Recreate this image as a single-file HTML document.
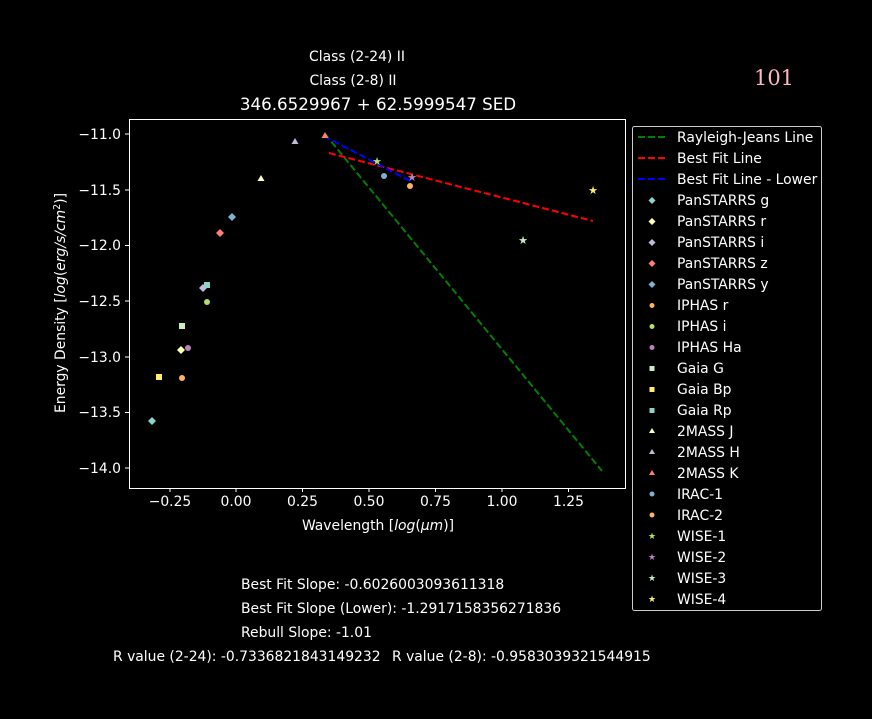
<!DOCTYPE html>
<html><head><style>
body{margin:0;background:#000;width:872px;height:714px;overflow:hidden}
svg text{font-family:"DejaVu Sans","Liberation Sans",sans-serif;fill:#fff}
</style></head><body>
<svg width="872" height="714" xmlns="http://www.w3.org/2000/svg">
<rect width="872" height="714" fill="#000"/>
<text x="357" y="61" font-size="13.9" text-anchor="middle">Class (2-24) II</text>
<text x="353" y="85" font-size="13.9" text-anchor="middle">Class (2-8) II</text>
<text x="378" y="110" font-size="16.7" text-anchor="middle">346.6529967 + 62.5999547 SED</text>
<text x="774" y="85" font-size="21" text-anchor="middle" style="fill:#ffb6c1;font-family:'DejaVu Serif','Liberation Serif',serif">101</text>
<rect x="129.5" y="119.5" width="496" height="369" fill="none" stroke="#fff" stroke-width="1"/>
<g stroke="#fff">
<line x1="170" y1="488" x2="170" y2="492"/><line x1="236" y1="488" x2="236" y2="492"/><line x1="302.5" y1="488" x2="302.5" y2="492"/><line x1="369" y1="488" x2="369" y2="492"/><line x1="435.5" y1="488" x2="435.5" y2="492"/><line x1="502" y1="488" x2="502" y2="492"/><line x1="568.5" y1="488" x2="568.5" y2="492"/>
<line x1="125" y1="134" x2="129" y2="134"/><line x1="125" y1="190" x2="129" y2="190"/><line x1="125" y1="245.5" x2="129" y2="245.5"/><line x1="125" y1="301" x2="129" y2="301"/><line x1="125" y1="357" x2="129" y2="357"/><line x1="125" y1="412.5" x2="129" y2="412.5"/><line x1="125" y1="468" x2="129" y2="468"/>
</g>
<g font-size="13.9" text-anchor="middle">
<text x="170" y="506">−0.25</text><text x="236" y="506">0.00</text><text x="302.5" y="506">0.25</text><text x="369" y="506">0.50</text><text x="435.5" y="506">0.75</text><text x="502" y="506">1.00</text><text x="568.5" y="506">1.25</text>
<text x="378" y="530">Wavelength [<tspan font-style="italic">log</tspan>(<tspan font-style="italic">μm</tspan>)]</text>
</g>
<g font-size="13.9" text-anchor="end">
<text x="121" y="139">−11.0</text><text x="121" y="195">−11.5</text><text x="121" y="250">−12.0</text><text x="121" y="306">−12.5</text><text x="121" y="362">−13.0</text><text x="121" y="417">−13.5</text><text x="121" y="473">−14.0</text>
</g>
<text transform="translate(65,303) rotate(-90)" font-size="13.9" text-anchor="middle">Energy Density [<tspan font-style="italic">log</tspan>(<tspan font-style="italic">erg/s/cm</tspan><tspan font-size="9.5" dy="-5">2</tspan><tspan dy="5">)]</tspan></text>
<line x1="325" y1="134" x2="602" y2="471" stroke="#008000" stroke-width="2" stroke-dasharray="7,3"/>
<line x1="329" y1="153" x2="593" y2="221" stroke="#f00" stroke-width="2" stroke-dasharray="7,3"/>
<line x1="324" y1="136" x2="412" y2="182" stroke="#00f" stroke-width="2" stroke-dasharray="7,3"/>
<g>
<path d="M152 417l4 4-4 4-4-4z" fill="#8dd3c7"/>
<path d="M181 346l4 4-4 4-4-4z" fill="#ffffb3"/>
<path d="M203 284l4 4-4 4-4-4z" fill="#bebada"/>
<path d="M220 229l4 4-4 4-4-4z" fill="#fb8072"/>
<path d="M232 213l4 4-4 4-4-4z" fill="#80b1d3"/>
<circle cx="182" cy="378" r="3" fill="#fdb462"/>
<circle cx="207" cy="302" r="3" fill="#b3de69"/>
<circle cx="188" cy="348" r="3" fill="#bc80bd"/>
<rect x="179" y="323" width="6" height="6" fill="#ccebc5"/>
<rect x="156" y="374" width="6" height="6" fill="#ffed6f"/>
<rect x="204" y="282" width="6" height="6" fill="#8dd3c7"/>
<path d="M261 175l3.5 6h-7z" fill="#ffffb3"/>
<path d="M295 138l3.5 6h-7z" fill="#bebada"/>
<path d="M325 132l3.5 6h-7z" fill="#fb8072"/>
<circle cx="384" cy="176" r="3" fill="#80b1d3"/>
<circle cx="410" cy="186" r="3" fill="#fdb462"/>
<text x="377" y="165" font-size="11" text-anchor="middle" style="fill:#b3de69">★</text>
<text x="412" y="181" font-size="11" text-anchor="middle" style="fill:#bc80bd">★</text>
<text x="523" y="244" font-size="11" text-anchor="middle" style="fill:#ccebc5">★</text>
<text x="593" y="194" font-size="11" text-anchor="middle" style="fill:#ffed6f">★</text>
</g>
<rect x="632.5" y="126.5" width="189" height="484" rx="2" fill="#000" stroke="#ccc" stroke-width="1"/>
<g font-size="13.9">
<line x1="638" y1="137" x2="666" y2="137" stroke="#008000" stroke-width="2" stroke-dasharray="7,3"/><text x="677" y="142">Rayleigh-Jeans Line</text>
<line x1="638" y1="158" x2="666" y2="158" stroke="#f00" stroke-width="2" stroke-dasharray="7,3"/><text x="677" y="163">Best Fit Line</text>
<line x1="638" y1="179" x2="666" y2="179" stroke="#00f" stroke-width="2" stroke-dasharray="7,3"/><text x="677" y="184">Best Fit Line - Lower</text>
<path d="M652 197l3.5 3.5-3.5 3.5-3.5-3.5z" fill="#8dd3c7"/><text x="677" y="205">PanSTARRS g</text>
<path d="M652 218l3.5 3.5-3.5 3.5-3.5-3.5z" fill="#ffffb3"/><text x="677" y="226">PanSTARRS r</text>
<path d="M652 239l3.5 3.5-3.5 3.5-3.5-3.5z" fill="#bebada"/><text x="677" y="247">PanSTARRS i</text>
<path d="M652 260l3.5 3.5-3.5 3.5-3.5-3.5z" fill="#fb8072"/><text x="677" y="268">PanSTARRS z</text>
<path d="M652 281l3.5 3.5-3.5 3.5-3.5-3.5z" fill="#80b1d3"/><text x="677" y="289">PanSTARRS y</text>
<circle cx="652" cy="305.5" r="2.5" fill="#fdb462"/><text x="677" y="310">IPHAS r</text>
<circle cx="652" cy="326.5" r="2.5" fill="#b3de69"/><text x="677" y="331">IPHAS i</text>
<circle cx="652" cy="347.5" r="2.5" fill="#bc80bd"/><text x="677" y="352">IPHAS Ha</text>
<rect x="649.5" y="366" width="5" height="5" fill="#ccebc5"/><text x="677" y="373">Gaia G</text>
<rect x="649.5" y="387" width="5" height="5" fill="#ffed6f"/><text x="677" y="394">Gaia Bp</text>
<rect x="649.5" y="408" width="5" height="5" fill="#8dd3c7"/><text x="677" y="415">Gaia Rp</text>
<path d="M652 428l3 5h-6z" fill="#ffffb3"/><text x="677" y="436">2MASS J</text>
<path d="M652 449l3 5h-6z" fill="#bebada"/><text x="677" y="457">2MASS H</text>
<path d="M652 470l3 5h-6z" fill="#fb8072"/><text x="677" y="478">2MASS K</text>
<circle cx="652" cy="494" r="2.5" fill="#80b1d3"/><text x="677" y="499">IRAC-1</text>
<circle cx="652" cy="515" r="2.5" fill="#fdb462"/><text x="677" y="520">IRAC-2</text>
<text x="652" y="539" font-size="9" text-anchor="middle" style="fill:#b3de69">★</text><text x="677" y="541">WISE-1</text>
<text x="652" y="560" font-size="9" text-anchor="middle" style="fill:#bc80bd">★</text><text x="677" y="562">WISE-2</text>
<text x="652" y="581" font-size="9" text-anchor="middle" style="fill:#ccebc5">★</text><text x="677" y="583">WISE-3</text>
<text x="652" y="602" font-size="9" text-anchor="middle" style="fill:#ffed6f">★</text><text x="677" y="604">WISE-4</text>
</g>
<g font-size="13.9">
<text x="241" y="589">Best Fit Slope: -0.6026003093611318</text>
<text x="241" y="613">Best Fit Slope (Lower): -1.2917158356271836</text>
<text x="241" y="637">Rebull Slope: -1.01</text>
<text x="113" y="661">R value (2-24): -0.7336821843149232</text>
<text x="392" y="661">R value (2-8): -0.9583039321544915</text>
</g>
</svg>
</body></html>
